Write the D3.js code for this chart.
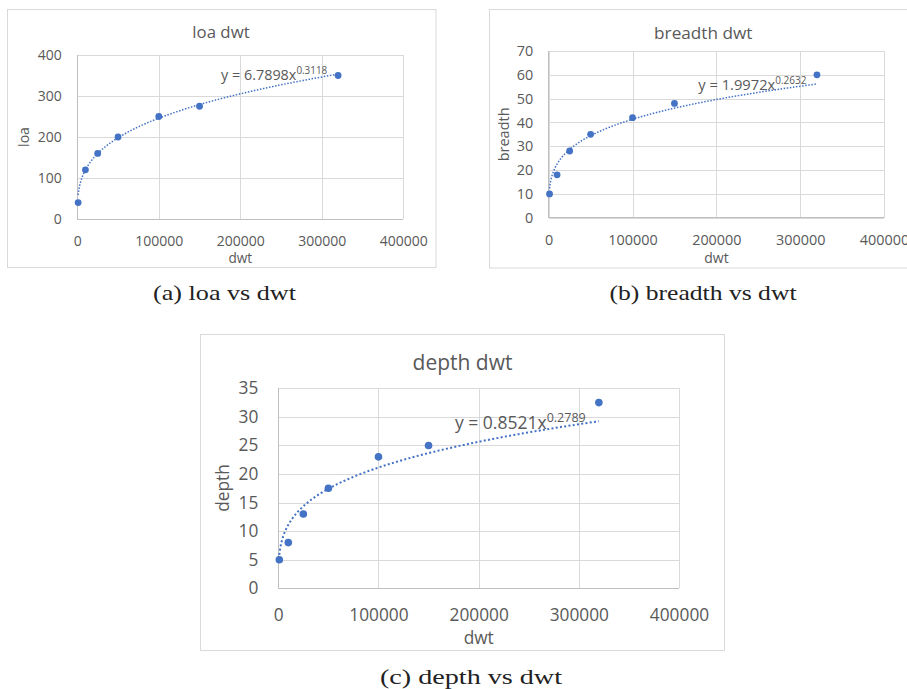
<!DOCTYPE html>
<html>
<head>
<meta charset="utf-8">
<script src="https://cdn.jsdelivr.net/npm/d3@7"></script>
<style>
body { margin: 0; background: #fff; }
</style>
</head>
<body>
<div id="fig"></div>
<script>
// values
var dwt = [1000, 10000, 25000, 50000, 100000, 150000, 320000];
var loa = [40, 120, 160, 200, 250, 275, 350];
var breadth = [10, 18, 28, 35, 42, 48, 60];
var depth = [5, 8, 13, 17.5, 23, 25, 32.5];

var xTicks = [0, 100000, 200000, 300000, 400000];
var loaTicks = [0, 100, 200, 300, 400];
var breadthTicks = [0, 10, 20, 30, 40, 50, 60, 70];
var depthTicks = [0, 5, 10, 15, 20, 25, 30, 35];

// power trendlines (coefficient, exponent) as printed on the charts
var loaFit = [6.7898, 0.3118];
var breadthFit = [1.9972, 0.2632];
var depthFit = [0.8521, 0.2789];

var titles = ["loa dwt", "breadth dwt", "depth dwt"];
var yNames = ["loa", "breadth", "depth"];
var captions = ["(a) loa vs dwt", "(b) breadth vs dwt", "(c) depth vs dwt"];

var blue = "#4472C4";
var textCol = "#595959";
var font = "'Open Sans', sans-serif";

var svg = d3.select("#fig").append("svg")
    .attr("width", 907)
    .attr("height", 689);

var charts = [
  { ys: loa, ticks: loaTicks, fit: loaFit, title: titles[0], yName: yNames[0],
    frame: [7.5, 9.5, 428.5, 258], plot: [77.3, 55, 403.3, 219],
    tickFs: 14, yPad: 15.6, xPad: 17,
    titlePos: [221, 31.5, 16.8], xLab: [240.3, 257.7, 13.6], yLab: [23.5, 137, 14],
    eq: [221, 79.5, 14.4, 9.9, 73.5], r: 3.4, dotW: 1.5, dash: "1.5,1.6",
    caption: [224.5, 300, 143] },
  { ys: breadth, ticks: breadthTicks, fit: breadthFit, title: titles[1], yName: yNames[1],
    frame: [489.5, 9.5, 430, 258.5], plot: [548.7, 51, 884, 217.7],
    tickFs: 14.4, yPad: 15.4, xPad: 17.3,
    titlePos: [703.3, 32, 17.2], xLab: [716.5, 257.7, 14], yLab: [503, 134.4, 14.5],
    eq: [698.3, 90, 14.7, 10, 84], r: 3.4, dotW: 1.5, dash: "1.5,1.6",
    caption: [703, 300, 187] },
  { ys: depth, ticks: depthTicks, fit: depthFit, title: titles[2], yName: yNames[2],
    frame: [200.5, 334.5, 524, 316], plot: [278.3, 388.3, 679, 588.3],
    tickFs: 17.3, yPad: 20, xPad: 20.6,
    titlePos: [462.5, 362, 21], xLab: [478.7, 637, 17.3], yLab: [222, 488, 17.3],
    eq: [455, 429, 17.5, 12.5, 421.7], r: 3.8, dotW: 2, dash: "2,2.3",
    caption: [471, 684, 182] }
];

charts.forEach(drawChart);

function drawChart(c, k) {
  var g = svg.append("g");

  g.append("rect")
    .attr("x", c.frame[0]).attr("y", c.frame[1])
    .attr("width", c.frame[2]).attr("height", c.frame[3])
    .attr("fill", "#fff")
    .attr("stroke", "#d9d9d9");

  var x = d3.scaleLinear().domain([0, 400000]).range([c.plot[0], c.plot[2]]);
  var y = d3.scaleLinear().domain([0, d3.max(c.ticks)]).range([c.plot[3], c.plot[1]]);
  var w = c.plot[2] - c.plot[0];
  var h = c.plot[3] - c.plot[1];

  // horizontal grid + y tick labels
  var yAxis = g.append("g")
    .attr("transform", "translate(" + c.plot[0] + ",0)")
    .call(d3.axisLeft(y).tickValues(c.ticks).tickSize(-w).tickPadding(c.yPad).tickFormat(d3.format("d")));
  yAxis.select(".domain").remove();
  yAxis.selectAll(".tick line").attr("stroke", "#d9d9d9").attr("shape-rendering", "crispEdges");

  // vertical grid + x tick labels
  var xAxis = g.append("g")
    .attr("transform", "translate(0," + c.plot[3] + ")")
    .call(d3.axisBottom(x).tickValues(xTicks).tickSize(-h).tickPadding(c.xPad).tickFormat(d3.format("d")));
  xAxis.select(".domain").remove();
  xAxis.selectAll(".tick line").attr("stroke", "#d9d9d9").attr("shape-rendering", "crispEdges");

  [yAxis, xAxis].forEach(function(a) {
    a.selectAll(".tick text")
      .attr("fill", textCol)
      .style("font-family", font)
      .style("font-size", c.tickFs + "px");
  });

  // axis lines
  g.append("line")
    .attr("x1", x(0)).attr("x2", x(400000))
    .attr("y1", y(0)).attr("y2", y(0))
    .attr("stroke", "#bfbfbf").attr("shape-rendering", "crispEdges");
  g.append("line")
    .attr("x1", x(0)).attr("x2", x(0))
    .attr("y1", y(0)).attr("y2", y(d3.max(c.ticks)))
    .attr("stroke", "#bfbfbf").attr("shape-rendering", "crispEdges");

  // trendline y = a*x^b over the data range
  var x0 = d3.min(dwt), x1 = d3.max(dwt);
  var xs = d3.range(201).map(function(i) { return x0 * Math.pow(x1 / x0, i / 200); });
  var line = d3.line()
    .x(function(d) { return x(d); })
    .y(function(d) { return y(c.fit[0] * Math.pow(d, c.fit[1])); });
  g.append("path")
    .datum(xs)
    .attr("d", line)
    .attr("fill", "none")
    .attr("stroke", blue)
    .attr("stroke-width", c.dotW)
    .attr("stroke-dasharray", c.dash);

  // points
  g.selectAll("circle")
    .data(dwt)
    .enter()
    .append("circle")
    .attr("cx", function(d) { return x(d); })
    .attr("cy", function(d, i) { return y(c.ys[i]); })
    .attr("r", c.r)
    .attr("fill", blue);

  // equation label
  var eq = g.append("text")
    .attr("x", c.eq[0]).attr("y", c.eq[1])
    .attr("fill", textCol)
    .style("font-family", font)
    .style("font-size", c.eq[2] + "px");
  eq.append("tspan").text("y = " + c.fit[0].toFixed(4) + "x");
  eq.append("tspan")
    .attr("y", c.eq[4])
    .style("font-size", c.eq[3] + "px")
    .text(c.fit[1].toFixed(4));

  // title
  g.append("text")
    .attr("x", c.titlePos[0]).attr("y", c.titlePos[1])
    .attr("text-anchor", "middle")
    .attr("dominant-baseline", "central")
    .attr("fill", textCol)
    .style("font-family", font)
    .style("font-size", c.titlePos[2] + "px")
    .text(c.title);

  // axis titles
  g.append("text")
    .attr("x", c.xLab[0]).attr("y", c.xLab[1])
    .attr("text-anchor", "middle")
    .attr("dominant-baseline", "central")
    .attr("fill", textCol)
    .style("font-family", font)
    .style("font-size", c.xLab[2] + "px")
    .text("dwt");
  g.append("text")
    .attr("transform", "translate(" + c.yLab[0] + "," + c.yLab[1] + ") rotate(-90)")
    .attr("text-anchor", "middle")
    .attr("dominant-baseline", "central")
    .attr("fill", textCol)
    .style("font-family", font)
    .style("font-size", c.yLab[2] + "px")
    .text(c.yName);

  // caption under the chart (LaTeX-like serif, a bit wider than Times)
  svg.append("text")
    .attr("x", c.caption[0]).attr("y", c.caption[1])
    .attr("text-anchor", "middle")
    .attr("textLength", c.caption[2])
    .attr("lengthAdjust", "spacingAndGlyphs")
    .attr("fill", "#222")
    .style("font-family", "'Liberation Serif', 'Times New Roman', serif")
    .style("font-size", "22px")
    .text(captions[k]);
}
</script>
</body>
</html>
